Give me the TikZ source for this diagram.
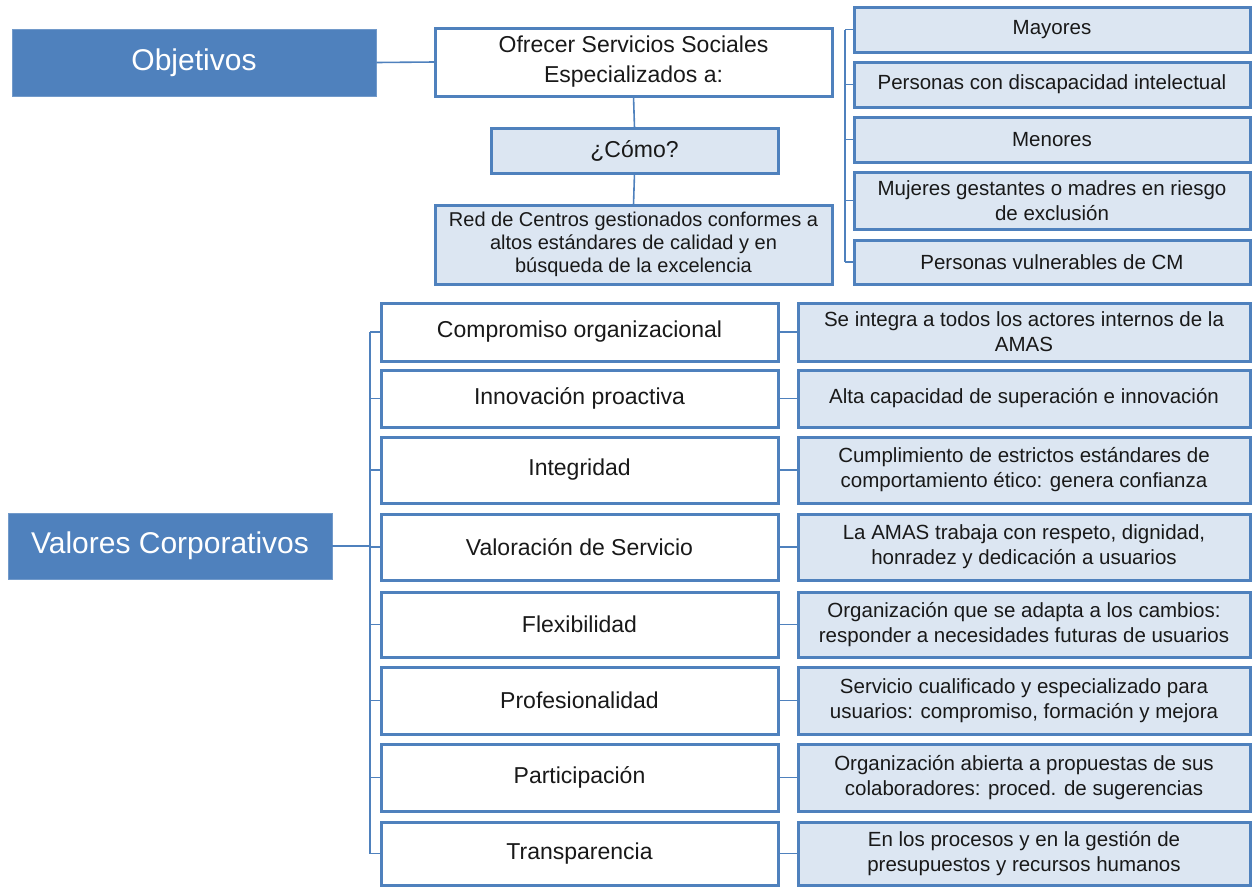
\documentclass[tikz,border=0pt]{standalone}
\usepackage{fontspec}
\setmainfont{Liberation Sans}
\usetikzlibrary{calc}
\definecolor{bblue}{RGB}{79,129,189}
\definecolor{lblue}{RGB}{220,230,242}
\definecolor{txt}{RGB}{25,25,25}
\tikzset{
  base/.style={draw=bblue, line width=3pt, rectangle, inner sep=0pt, outer sep=0pt, align=center, text=txt,
    font=\fontsize{20.5}{25}\selectfont},
  whitebox/.style={base, fill=white},
  lightbox/.style={base, fill=lblue},
  bigtext/.style={font=\fontsize{23}{30}\selectfont},
  title/.style={rectangle, fill=bblue, draw=bblue!80!white, line width=0.6pt, inner sep=0pt, text=white,
    font=\fontsize{30}{34}\selectfont},
  link/.style={draw=bblue, line width=1.6pt},
}
\begin{document}
\begin{tikzpicture}[x=1pt,y=-1pt]
\useasboundingbox (0,0) rectangle (1252,886);
% ---- Objetivos ----
\node[title, minimum width=364pt, minimum height=67pt] (obj) at (194,62.5) {Objetivos};
\node[whitebox, bigtext, minimum width=397pt, minimum height=68pt] (ofr) at (633.5,62) {Ofrecer Servicios Sociales\\Especializados a:};
\node[lightbox, bigtext, minimum width=287pt, minimum height=45pt] (como) at (634.5,150.5) {¿Cómo?};
\node[lightbox, font=\fontsize{20}{23}\selectfont, minimum width=397pt, minimum height=79pt] (red) at (633.5,244.5) {Red de Centros gestionados conformes a\\altos estándares de calidad y en\\búsqueda de la excelencia};
\draw[link] (obj.east) -- (ofr.west);
\draw[link] (ofr.south) -- (como.north);
\draw[link] (como.south) -- (red.north);
% ---- target groups ----
\node[lightbox, minimum width=396pt, minimum height=45pt] (m1) at (1052,29.5) {Mayores};
\node[lightbox, minimum width=396pt, minimum height=45pt] (m2) at (1052,84.5) {Personas con discapacidad intelectual};
\node[lightbox, minimum width=396pt, minimum height=45pt] (m3) at (1052,139.5) {Menores};
\node[lightbox, minimum width=396pt, minimum height=57pt] (m4) at (1052,200.5) {Mujeres gestantes o madres en riesgo\\de exclusión};
\node[lightbox, minimum width=396pt, minimum height=44pt] (m5) at (1052,262) {Personas vulnerables de CM};
\draw[link] ([xshift=-9pt]m1.west) -- ([xshift=-9pt]m5.west);
\foreach \n in {m1,m2,m3,m4,m5} \draw[link] (\n.west) -- ([xshift=-9pt]\n.west);
% ---- Valores ----
\node[title, minimum width=324pt, minimum height=66pt] (val) at (170,546) {Valores Corporativos};
\node[whitebox, bigtext, minimum width=397pt, minimum height=58pt] (v1) at (579.5,332) {Compromiso organizacional};
\node[whitebox, bigtext, minimum width=397pt, minimum height=57pt] (v2) at (579.5,398.5) {Innovación proactiva};
\node[whitebox, bigtext, minimum width=397pt, minimum height=66pt] (v3) at (579.5,470) {Integridad};
\node[whitebox, bigtext, minimum width=397pt, minimum height=66pt] (v4) at (579.5,547) {Valoración de Servicio};
\node[whitebox, bigtext, minimum width=397pt, minimum height=65pt] (v5) at (579.5,624.5) {Flexibilidad};
\node[whitebox, bigtext, minimum width=397pt, minimum height=67pt] (v6) at (579.5,700.5) {Profesionalidad};
\node[whitebox, bigtext, minimum width=397pt, minimum height=67pt] (v7) at (579.5,777.5) {Participación};
\node[whitebox, bigtext, minimum width=397pt, minimum height=63pt] (v8) at (579.5,853.5) {Transparencia};
\node[lightbox, minimum width=452pt, minimum height=58pt] (d1) at (1024,332) {Se integra a todos los actores internos de la\\AMAS};
\node[lightbox, minimum width=452pt, minimum height=57pt] (d2) at (1024,398.5) {Alta capacidad de superación e innovación};
\node[lightbox, minimum width=452pt, minimum height=66pt] (d3) at (1024,470) {Cumplimiento de estrictos estándares\ de\\comportamiento ético: genera confianza};
\node[lightbox, minimum width=452pt, minimum height=66pt] (d4) at (1024,547) {La AMAS trabaja con respeto, dignidad,\\honradez y dedicación a usuarios};
\node[lightbox, minimum width=452pt, minimum height=65pt] (d5) at (1024,624.5) {Organización que se adapta a los cambios:\\responder a necesidades futuras de usuarios};
\node[lightbox, minimum width=452pt, minimum height=67pt] (d6) at (1024,700.5) {Servicio cualificado y especializado para\\usuarios: compromiso, formación y mejora};
\node[lightbox, minimum width=452pt, minimum height=67pt] (d7) at (1024,777.5) {Organización abierta a propuestas de sus\\colaboradores: proced. de sugerencias};
\node[lightbox, minimum width=452pt, minimum height=63pt] (d8) at (1024,853.5) {En los procesos y en la gestión de\\presupuestos y recursos humanos};
\draw[link] ([xshift=-11pt]v1.west) -- ([xshift=-11pt]v8.west);
\draw[link] (val.east) -- ([xshift=-11pt]v1.west |- val.east);
\foreach \i in {1,...,8} {
  \draw[link] (v\i.west) -- ([xshift=-11pt]v\i.west);
  \draw[link] (v\i.east) -- (d\i.west);
}
\end{tikzpicture}
\end{document}
